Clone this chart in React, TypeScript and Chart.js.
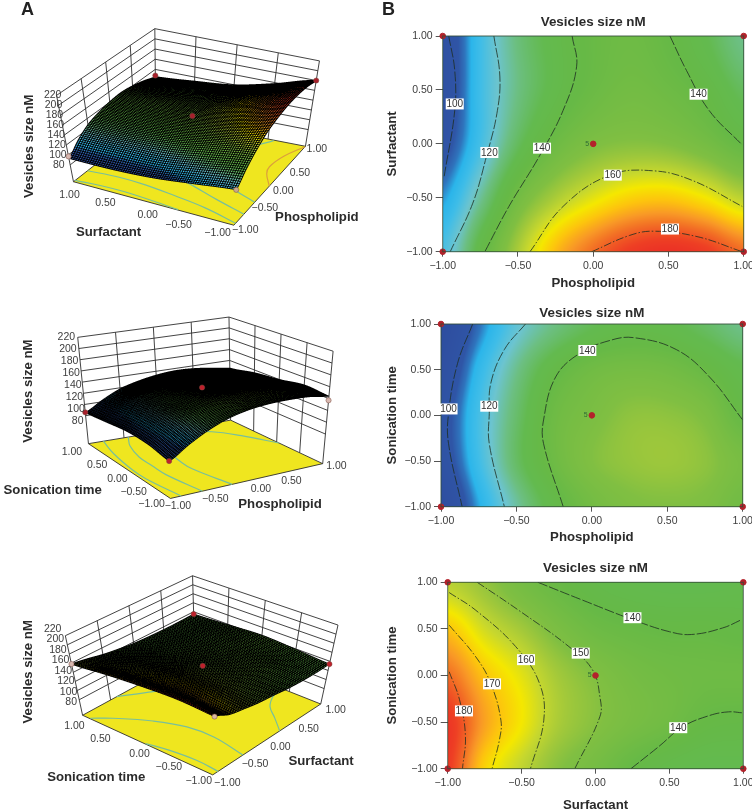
import React, { useEffect, useRef } from "react";
import { Chart } from "chart.js/auto";

type Pt = { x: number; y: number };
type Contour = { level: number; points: Pt[] };

const FONT = '"Liberation Sans", Arial, sans-serif';
Chart.defaults.font.family = FONT;

// ---------- axis values ----------
const gridX = [-1, -0.75, -0.5, -0.25, 0, 0.25, 0.5, 0.75, 1];
const gridY = [1, 0.5, 0, -0.5, -1];
const axisTicks = [-1, -0.5, 0, 0.5, 1];
const zTicks = [80, 100, 120, 140, 160, 180, 200, 220];
const titleText = "Vesicles size nM";

// ---------- response values (rows: y = 1 … -1, columns: gridX) ----------
const sizePhosSurf = [
  [93, 113, 128, 136, 141, 143, 140, 134, 126],
  [93, 113, 127, 136, 142, 145, 143, 139, 132],
  [97, 114, 132, 143, 149, 151, 150, 146, 140],
  [106, 125, 145, 156, 163, 168, 169, 165, 158],
  [115, 137, 156, 171, 180, 186, 188, 186, 180],
];
const sizePhosSonic = [
  [86, 103, 118, 127, 133, 136, 135, 131, 126],
  [91, 110, 126, 138, 144, 146, 145, 141, 135],
  [96, 114, 130, 143, 148, 152, 152, 149, 140],
  [95, 113, 131, 143, 150, 153, 154, 152, 147],
  [88, 107, 124, 137, 145, 149, 150, 149, 144],
];
const sizeSurfSonic = [
  [158, 153, 146, 141, 137, 135, 134, 134, 135],
  [170, 161, 155, 148, 143, 141, 140, 140, 139],
  [180, 170, 163, 155, 150, 146, 144, 143, 143],
  [187, 174, 165, 156, 151, 147, 144, 140, 139],
  [186, 168, 159, 151, 146, 140, 136, 134, 134],
];

// ---------- contour lines ----------
const contoursPhosSurf: Contour[] = [
  { level: 100, points: [{ x: -0.96, y: 1 }, { x: -0.92, y: 0.68 }, { x: -0.92, y: 0.31 }, { x: -0.99, y: -0.3 }] },
  { level: 120, points: [{ x: -0.66, y: 1 }, { x: -0.62, y: 0.62 }, { x: -0.64, y: 0.28 }, { x: -0.71, y: -0.12 }, { x: -0.8, y: -0.55 }, { x: -0.95, y: -1 }] },
  { level: 140, points: [{ x: -0.14, y: 1 }, { x: -0.11, y: 0.72 }, { x: -0.2, y: 0.31 }, { x: -0.36, y: -0.12 }, { x: -0.56, y: -0.58 }, { x: -0.72, y: -1 }] },
  { level: 140, points: [{ x: 0.51, y: 1 }, { x: 0.62, y: 0.68 }, { x: 0.77, y: 0.31 }, { x: 0.99, y: -0.01 }] },
  { level: 160, points: [{ x: -0.42, y: -1 }, { x: -0.2, y: -0.58 }, { x: 0.11, y: -0.29 }, { x: 0.4, y: -0.25 }, { x: 0.66, y: -0.34 }, { x: 0.99, y: -0.58 }] },
  { level: 180, points: [{ x: -0.01, y: -1 }, { x: 0.24, y: -0.85 }, { x: 0.4, y: -0.81 }, { x: 0.69, y: -0.86 }, { x: 0.99, y: -1 }] },
];
const contoursPhosSonic: Contour[] = [
  { level: 100, points: [{ x: -0.79, y: 1 }, { x: -0.89, y: 0.57 }, { x: -0.95, y: 0.02 }, { x: -0.95, y: -0.31 }, { x: -0.86, y: -1 }] },
  { level: 120, points: [{ x: -0.44, y: 1 }, { x: -0.58, y: 0.72 }, { x: -0.67, y: 0.35 }, { x: -0.68, y: 0.02 }, { x: -0.68, y: -0.31 }, { x: -0.58, y: -1 }] },
  { level: 140, points: [{ x: -0.19, y: -1 }, { x: -0.32, y: -0.31 }, { x: -0.32, y: -0.05 }, { x: -0.24, y: 0.42 }, { x: -0.08, y: 0.68 }, { x: 0.12, y: 0.82 }, { x: 0.28, y: 0.85 }, { x: 0.56, y: 0.72 }, { x: 0.78, y: 0.42 }, { x: 1, y: -0.05 }] },
];
const contoursSurfSonic: Contour[] = [
  { level: 180, points: [{ x: -0.99, y: 0.04 }, { x: -0.92, y: -0.26 }, { x: -0.88, y: -0.65 }, { x: -0.9, y: -1 }] },
  { level: 170, points: [{ x: -0.99, y: 0.54 }, { x: -0.81, y: 0.2 }, { x: -0.71, y: -0.08 }, { x: -0.64, y: -0.48 }, { x: -0.65, y: -0.69 }, { x: -0.7, y: -1 }] },
  { level: 160, points: [{ x: -0.99, y: 0.89 }, { x: -0.81, y: 0.7 }, { x: -0.54, y: 0.31 }, { x: -0.38, y: -0.08 }, { x: -0.35, y: -0.48 }, { x: -0.44, y: -1 }] },
  { level: 150, points: [{ x: -0.8, y: 1 }, { x: -0.52, y: 0.7 }, { x: -0.18, y: 0.31 }, { x: -0.02, y: 0.06 }, { x: 0.03, y: -0.23 }, { x: 0.03, y: -0.44 }, { x: -0.14, y: -1 }] },
  { level: 140, points: [{ x: -0.39, y: 1 }, { x: -0.09, y: 0.81 }, { x: 0.25, y: 0.6 }, { x: 0.5, y: 0.47 }, { x: 0.65, y: 0.44 }, { x: 0.86, y: 0.51 }, { x: 0.99, y: 0.6 }] },
  { level: 140, points: [{ x: 0.24, y: -1 }, { x: 0.43, y: -0.76 }, { x: 0.59, y: -0.55 }, { x: 0.77, y: -0.43 }, { x: 0.9, y: -0.39 }, { x: 0.99, y: -0.4 }] },
];

// ---------- contour value labels ----------
const labelsPhosSurf = [
  { x: -0.92, y: 0.37, t: "100" }, { x: -0.69, y: -0.08, t: "120" }, { x: -0.34, y: -0.04, t: "140" },
  { x: 0.7, y: 0.46, t: "140" }, { x: 0.13, y: -0.29, t: "160" }, { x: 0.51, y: -0.79, t: "180" },
];
const labelsPhosSonic = [
  { x: -0.95, y: 0.07, t: "100" }, { x: -0.68, y: 0.1, t: "120" }, { x: -0.03, y: 0.71, t: "140" },
];
const labelsSurfSonic = [
  { x: 0.25, y: 0.62, t: "140" }, { x: -0.1, y: 0.24, t: "150" }, { x: -0.47, y: 0.17, t: "160" },
  { x: -0.7, y: -0.09, t: "170" }, { x: -0.89, y: -0.38, t: "180" }, { x: 0.56, y: -0.56, t: "140" },
];

// ---------- design points ----------
const designCorners: Pt[] = [{ x: -1, y: 1 }, { x: 1, y: 1 }, { x: -1, y: -1 }, { x: 1, y: -1 }, { x: 0, y: 0 }];
const designPhosSurf = [{ x: -1, y: 1, z: 97, c: "#d8b8b0" }, { x: 1, y: 1, z: 128, c: "#a8202c" }, { x: -1, y: -1, z: 115, c: "#c9a98a" }, { x: 1, y: -1, z: 180, c: "#a8202c" }, { x: 0, y: 0, z: 149, c: "#a8202c" }];
const designPhosSonic = [{ x: -1, y: 1, z: 86, c: "#a8202c" }, { x: -1, y: -1, z: 88, c: "#c0202c" }, { x: 1, y: -1, z: 137, c: "#d8b8b0" }, { x: 0, y: 0, z: 148, c: "#c0202c" }];
const designSurfSonic = [{ x: -1, y: 1, z: 158, c: "#d8b8b0" }, { x: 1, y: 1, z: 135, c: "#c0202c" }, { x: -1, y: -1, z: 186, c: "#d8b8a0" }, { x: 1, y: -1, z: 134, c: "#c0202c" }, { x: 0, y: 0, z: 150, c: "#c0202c" }];

// ---------- colour ramp ----------
const colorStops: [number, string][] = [
  [80, "#2e4a9c"], [100, "#2f55a6"], [104, "#2f74bd"], [108, "#2bb5ea"], [113, "#3fbde8"], [120, "#6cc4cf"],
  [127, "#6cbf82"], [134, "#63ba4f"], [140, "#66b946"], [150, "#80bf42"], [155, "#a3c93a"], [160, "#c8d82e"],
  [165, "#f5e800"], [170, "#fdc40e"], [175, "#f99a26"], [180, "#f26c25"], [185, "#ee4024"], [192, "#e81f28"],
];
const hex = (s: string) => [1, 3, 5].map((i) => parseInt(s.slice(i, i + 2), 16));
const stopRgb = colorStops.map(([v, c]) => [v, ...hex(c)]);
function rampColor(v: number): number[] {
  if (v <= stopRgb[0][0]) return stopRgb[0].slice(1);
  for (let i = 1; i < stopRgb.length; i++) {
    if (v <= stopRgb[i][0]) {
      const a = stopRgb[i - 1];
      const b = stopRgb[i];
      const t = (v - a[0]) / (b[0] - a[0]);
      return [a[1] + (b[1] - a[1]) * t, a[2] + (b[2] - a[2]) * t, a[3] + (b[3] - a[3]) * t];
    }
  }
  return stopRgb[stopRgb.length - 1].slice(1);
}

function cr(p0: number, p1: number, p2: number, p3: number, t: number) {
  return 0.5 * (2 * p1 + (p2 - p0) * t + (2 * p0 - 5 * p1 + 4 * p2 - p3) * t * t + (3 * p1 - p0 - 3 * p2 + p3) * t * t * t);
}
function readGrid(g: number[][], x: number, y: number) {
  const fx = Math.min(gridX.length - 1.0001, Math.max(0, (x + 1) * 4));
  const fy = Math.min(gridY.length - 1.0001, Math.max(0, (1 - y) * 2));
  const ix = Math.floor(fx), iy = Math.floor(fy);
  const row = (r: number) => {
    const R = g[Math.max(0, Math.min(4, r))];
    const c = (k: number) => R[Math.max(0, Math.min(8, k))];
    return cr(c(ix - 1), c(ix), c(ix + 1), c(ix + 2), fx - ix);
  };
  return cr(row(iy - 1), row(iy), row(iy + 1), row(iy + 2), fy - iy);
}

const fmt = (v: number) => (v < 0 ? "\u2212" : "") + Math.abs(v).toFixed(2);

// ---------- contour panels ----------
type CP = {
  top: number; height: number; plotL: number; plotR: number; plotT: number; plotB: number; titleY: number; xTitleY: number;
  grid: number[][]; contours: Contour[]; labels: { x: number; y: number; t: string }[];
  xTitle: string; yTitle: string; mark?: string;
};
function ContourPanel(p: CP) {
  const ref = useRef<HTMLCanvasElement>(null);
  useEffect(() => {
    const W = 376;
    const lhT = 13.4 * 1.2;
    const lhA = 13.2 * 1.2;
    const heat = {
      id: "heat",
      beforeDatasetsDraw(ch: any) {
        const a = ch.chartArea;
        const w = Math.round(a.right - a.left), h = Math.round(a.bottom - a.top);
        const off = document.createElement("canvas");
        off.width = w; off.height = h;
        const c = off.getContext("2d")!;
        const img = c.createImageData(w, h);
        for (let j = 0; j < h; j++) {
          const y = ch.scales.y.getValueForPixel(a.top + j + 0.5);
          for (let i = 0; i < w; i++) {
            const x = ch.scales.x.getValueForPixel(a.left + i + 0.5);
            const col = rampColor(readGrid(p.grid, x, y));
            const k = (j * w + i) * 4;
            img.data[k] = col[0]; img.data[k + 1] = col[1]; img.data[k + 2] = col[2]; img.data[k + 3] = 255;
          }
        }
        c.putImageData(img, 0, 0);
        ch.ctx.drawImage(off, a.left, a.top, a.right - a.left, a.bottom - a.top);
      },
      afterDatasetsDraw(ch: any) {
        const ctx = ch.ctx;
        const a = ch.chartArea;
        ctx.save();
        ctx.strokeStyle = "rgba(50,75,55,0.85)";
        ctx.lineWidth = 1;
        ctx.strokeRect(a.left, a.top, a.right - a.left, a.bottom - a.top);
        ctx.font = `10px ${FONT}`;
        ctx.textAlign = "center";
        ctx.textBaseline = "middle";
        for (const l of p.labels) {
          const px = ch.scales.x.getPixelForValue(l.x), py = ch.scales.y.getPixelForValue(l.y);
          ctx.fillStyle = "#fff";
          ctx.fillRect(px - 9, py - 5.5, 18, 11);
          ctx.fillStyle = "#333";
          ctx.fillText(l.t, px, py + 0.5);
        }
        if (p.mark) {
          ctx.font = `7px ${FONT}`;
          ctx.fillStyle = "#2f6b35";
          ctx.fillText(p.mark, ch.scales.x.getPixelForValue(-0.04), ch.scales.y.getPixelForValue(0));
        }
        ctx.restore();
      },
    };
    const datasets: any[] = [
      {
        data: designCorners, showLine: false, pointStyle: "circle", pointRadius: 2.8, backgroundColor: "#b3222b",
        borderColor: "#b3222b", clip: false,
      },
      ...p.contours.map((c) => ({
        data: c.points, showLine: true, pointRadius: 0, borderColor: "#1e2f22", borderWidth: 0.8, tension: 0.4,
        borderDash: c.level >= 160 || c.level === 150 ? [8, 2, 1.5, 2] : [10, 2],
      })),
    ];
    const chart = new Chart(ref.current!, {
      type: "scatter",
      data: { datasets },
      plugins: [heat],
      options: {
        animation: false, responsive: false, events: [],
        layout: { padding: { left: 0, top: 0, right: W + 376 - p.plotR, bottom: 0 } },
        plugins: {
          legend: { display: false }, tooltip: { enabled: false },
          title: {
            display: true, text: titleText, color: "#2b2b2b", fullSize: false,
            font: { size: 13.4, weight: "bold" },
            padding: { top: p.titleY - p.top - lhT / 2, bottom: p.plotT - p.titleY - lhT / 2 },
          },
        },
        scales: {
          x: {
            type: "linear", min: -1, max: 1,
            afterFit(s: any) { s.height = p.top + p.height - p.plotB; s.paddingLeft = 0; s.paddingRight = 0; },
            afterBuildTicks(s: any) { s.ticks = axisTicks.map((v) => ({ value: v })); },
            ticks: { callback: (v: any) => fmt(Number(v)), color: "#3d3d3d", font: { size: 10.5 }, maxRotation: 0, autoSkip: false, padding: 3 },
            grid: { display: true, drawOnChartArea: false, drawTicks: true, tickLength: 5, color: "#555" },
            border: { display: false },
            title: {
              display: true, text: p.xTitle, color: "#2b2b2b", font: { size: 13.2, weight: "bold" },
              padding: { top: 0, bottom: p.top + p.height - p.xTitleY - lhA / 2 },
            },
          },
          y: {
            type: "linear", min: -1, max: 1,
            afterFit(s: any) { s.width = p.plotL - 376; s.paddingTop = 0; s.paddingBottom = 0; },
            afterBuildTicks(s: any) { s.ticks = axisTicks.map((v) => ({ value: v })); },
            ticks: { callback: (v: any) => fmt(Number(v)), color: "#3d3d3d", font: { size: 10.5 }, autoSkip: false, padding: 3 },
            grid: { display: true, drawOnChartArea: false, drawTicks: true, tickLength: 7, color: "#555" },
            border: { display: false },
            title: {
              display: true, text: p.yTitle, color: "#2b2b2b", font: { size: 13.2, weight: "bold" },
              padding: { top: 16.7 - lhA / 2, bottom: 0 },
            },
          },
        },
      } as any,
    });
    return () => chart.destroy();
  }, []);
  return <canvas ref={ref} width={376} height={p.height} style={{ position: "absolute", left: 376, top: p.top, width: 376, height: p.height }} />;
}

// ---------- 3-D panels ----------
type XY = [number, number];
type ViewCfg = {
  top: number; zMin: number; brush: number; cells: number; warm: number;
  f00: XY; f10: XY; f01: XY; f11: XY; t00: XY; t10: XY; t01: XY; t11: XY;
  zLabelTop: XY; zLabelBottom: XY; yLabels: XY[]; xLabels: XY[];
  xTitle: string; xTitleAt: XY; yTitle: string; yTitleAt: XY; zTitleAt: XY;
};
type View = ViewCfg & { grid: number[][]; contours: Contour[]; design: { x: number; y: number; z: number; c: string }[] };

const viewA1: ViewCfg = {
  top: 0, zMin: 46, brush: 3, cells: 74, warm: 170,
  f00: [705, 685], f10: [925, 440], f01: [212, 550], f11: [465, 350],
  t00: [723, 408], t10: [968, 175], t01: [160, 282], t11: [462, 75],
  zLabelTop: [148, 282], zLabelBottom: [167, 497],
  yLabels: [[655, 710], [535, 685], [440, 653], [310, 617], [200, 593]],
  xLabels: [[740, 700], [800, 632], [857, 578], [908, 524], [960, 450]],
  xTitle: "Phospholipid", xTitleAt: [960, 662], yTitle: "Surfactant", yTitleAt: [320, 708], zTitleAt: [75, 440],
};
const viewA2: ViewCfg = {
  top: 270, zMin: 30, brush: 3, cells: 74, warm: 999,
  f00: [510, 695], f10: [978, 587], f01: [258, 525], f11: [695, 452],
  t00: [497, 315], t10: [1010, 238], t01: [225, 195], t11: [690, 132],
  zLabelTop: [190, 195], zLabelBottom: [225, 455],
  yLabels: [[452, 712], [397, 674], [347, 634], [285, 590], [207, 550]],
  xLabels: [[533, 720], [648, 697], [788, 665], [882, 640], [1020, 595]],
  xTitle: "Phospholipid", xTitleAt: [847, 712], yTitle: "Sonication time", yTitleAt: [148, 670], zTitleAt: [73, 362],
};
const viewA3: ViewCfg = {
  top: 540, zMin: 46, brush: 3, cells: 74, warm: 999,
  f00: [640, 715], f10: [972, 495], f01: [240, 530], f11: [585, 340],
  t00: [647, 490], t10: [1025, 250], t01: [187, 283], t11: [578, 97],
  zLabelTop: [148, 262], zLabelBottom: [205, 490],
  yLabels: [[597, 735], [505, 692], [415, 652], [295, 605], [215, 565]],
  xLabels: [[685, 742], [770, 682], [848, 628], [935, 572], [1018, 514]],
  xTitle: "Surfactant", xTitleAt: [973, 672], yTitle: "Sonication time", yTitleAt: [282, 722], zTitleAt: [72, 395],
};

const SS = 4; // surface raster supersampling

function rasterSurface(ch: any, v: View, project: (x: number, y: number, z: number) => Pt) {
  const W = ch.width * SS, H = ch.height * SS;
  const off = document.createElement("canvas");
  off.width = W; off.height = H;
  const c = off.getContext("2d")!;
  const img = c.createImageData(W, H);
  const data = img.data;
  const put = (x: number, y: number, r: number, g: number, b: number) => {
    if (x < 0 || y < 0 || x >= W || y >= H) return;
    const k = (y * W + x) * 4;
    data[k] = r; data[k + 1] = g; data[k + 2] = b; data[k + 3] = 255;
  };
  const n = v.cells;
  const nodes: XY[][] = [];
  for (let i = 0; i <= n; i++) {
    nodes.push([]);
    for (let j = 0; j <= n; j++) {
      const x = -1 + (2 * i) / n, y = -1 + (2 * j) / n;
      const q = project(x, y, readGrid(v.grid, x, y));
      nodes[i].push([ch.scales.x.getPixelForValue(q.x) * SS, ch.scales.y.getPixelForValue(q.y) * SS]);
    }
  }
  const order: { i: number; j: number; d: number }[] = [];
  for (let i = 0; i < n; i++) for (let j = 0; j < n; j++) {
    order.push({ i, j, d: project(-1 + (2 * i + 1) / n, -1 + (2 * j + 1) / n, v.zMin).y });
  }
  order.sort((a, b) => a.d - b.d);
  const tri = (a: XY, b: XY, d: XY, r: number, g: number, bl: number) => {
    const x0 = Math.floor(Math.min(a[0], b[0], d[0])), x1 = Math.ceil(Math.max(a[0], b[0], d[0]));
    const y0 = Math.floor(Math.min(a[1], b[1], d[1])), y1 = Math.ceil(Math.max(a[1], b[1], d[1]));
    const area = (b[0] - a[0]) * (d[1] - a[1]) - (b[1] - a[1]) * (d[0] - a[0]);
    if (area === 0) return;
    for (let y = y0; y <= y1; y++) for (let x = x0; x <= x1; x++) {
      const w0 = ((b[0] - x) * (d[1] - y) - (b[1] - y) * (d[0] - x)) / area;
      const w1 = ((d[0] - x) * (a[1] - y) - (d[1] - y) * (a[0] - x)) / area;
      if (w0 >= -0.01 && w1 >= -0.01 && w0 + w1 <= 1.01) put(x, y, r, g, bl);
    }
  };
  const edge = (a: XY, b: XY) => {
    const steps = Math.ceil(Math.max(Math.abs(b[0] - a[0]), Math.abs(b[1] - a[1]))) + 1;
    for (let s = 0; s <= steps; s++) {
      const x = Math.round(a[0] + ((b[0] - a[0]) * s) / steps - v.brush / 2);
      const y = Math.round(a[1] + ((b[1] - a[1]) * s) / steps - v.brush / 2);
      for (let p = 0; p < v.brush; p++) for (let q = 0; q < v.brush; q++) put(x + p, y + q, 0, 0, 0);
    }
  };
  for (const o of order) {
    const a = nodes[o.i][o.j], b = nodes[o.i + 1][o.j], cc = nodes[o.i + 1][o.j + 1], d = nodes[o.i][o.j + 1];
    const col = rampColor(readGrid(v.grid, -1 + (2 * o.i + 1) / n, -1 + (2 * o.j + 1) / n));
    tri(a, b, cc, col[0], col[1], col[2]);
    tri(a, cc, d, col[0], col[1], col[2]);
    edge(a, b); edge(b, cc); edge(cc, d); edge(d, a);
  }
  c.putImageData(img, 0, 0);
  ch.ctx.save();
  ch.ctx.imageSmoothingEnabled = true;
  ch.ctx.imageSmoothingQuality = "high";
  ch.ctx.drawImage(off, 0, 0, ch.width, ch.height);
  ch.ctx.restore();
}

function Surface3D(v: View) {
  const ref = useRef<HTMLCanvasElement>(null);
  useEffect(() => {
    const zMax = 220;
    const project = (x: number, y: number, z: number) => {
      const u = (x + 1) / 2, w = (y + 1) / 2, h = (z - v.zMin) / (zMax - v.zMin);
      const mix = (a: XY, b: XY, c: XY, d: XY, k: 0 | 1) =>
        (1 - u) * (1 - w) * a[k] + u * (1 - w) * b[k] + (1 - u) * w * c[k] + u * w * d[k];
      const fx = mix(v.f00, v.f10, v.f01, v.f11, 0), fy = mix(v.f00, v.f10, v.f01, v.f11, 1);
      const tx = mix(v.t00, v.t10, v.t01, v.t11, 0), ty = mix(v.t00, v.t10, v.t01, v.t11, 1);
      return { x: fx + (tx - fx) * h, y: fy + (ty - fy) * h };
    };
    const wall = (pts: [number, number, number][]) => ({
      data: pts.map(([a, b, c]) => project(a, b, c)), showLine: true, pointRadius: 0,
      borderColor: "#2f2f2f", borderWidth: 0.9,
    });
    const wallSets: any[] = [];
    for (const z of zTicks) wallSets.push(wall([[-1, 1, z], [1, 1, z], [1, -1, z]]));
    for (const t of axisTicks) {
      wallSets.push(wall([[t, 1, v.zMin], [t, 1, zMax]]));
      if (t !== 1) wallSets.push(wall([[1, t, v.zMin], [1, t, zMax]]));
    }
    const floorSets = v.contours.map((c) => ({
      data: c.points.map((q) => project(q.x, q.y, v.zMin)), showLine: true, pointRadius: 0, tension: 0.4,
      borderColor: c.level >= v.warm ? "#dba03c" : "#78bf9c", borderWidth: 1.2,
    }));
    const datasets: any[] = [
      {
        data: v.design.map((d) => project(d.x, d.y, d.z)), showLine: false, pointRadius: 2.6,
        backgroundColor: v.design.map((d) => d.c), borderColor: "#7a4a40", borderWidth: 0.5, clip: false,
      },
      ...floorSets,
      ...wallSets,
    ];
    const px = (ch: any, p: { x: number; y: number }): XY => [ch.scales.x.getPixelForValue(p.x), ch.scales.y.getPixelForValue(p.y)];
    const plugin = {
      id: "surface",
      beforeDatasetsDraw(ch: any) {
        const ctx = ch.ctx;
        ctx.save();
        ctx.fillStyle = "#efe61f";
        ctx.strokeStyle = "#2f2f2f";
        ctx.lineWidth = 0.9;
        ctx.beginPath();
        [[-1, -1], [1, -1], [1, 1], [-1, 1]].forEach(([a, b], i) => {
          const q = px(ch, project(a, b, v.zMin));
          if (i === 0) ctx.moveTo(q[0], q[1]); else ctx.lineTo(q[0], q[1]);
        });
        ctx.closePath();
        ctx.fill();
        ctx.stroke();
        ctx.restore();
      },
      beforeDatasetDraw(ch: any, args: any) {
        if (args.index === 0) rasterSurface(ch, v, project);
      },
      afterDraw(ch: any) {
        const ctx = ch.ctx;
        ctx.save();
        ctx.textAlign = "center";
        ctx.textBaseline = "middle";
        const at = (q: XY) => px(ch, { x: q[0], y: q[1] });
        ctx.font = `10.5px ${FONT}`;
        ctx.fillStyle = "#3d3d3d";
        zTicks.forEach((z, i) => {
          const f = (zTicks.length - 1 - i) / (zTicks.length - 1);
          const q = at([
            v.zLabelTop[0] + (v.zLabelBottom[0] - v.zLabelTop[0]) * f,
            v.zLabelTop[1] + (v.zLabelBottom[1] - v.zLabelTop[1]) * f,
          ]);
          ctx.fillText(String(z), q[0], q[1]);
        });
        axisTicks.forEach((t, i) => {
          const a = at(v.xLabels[i]), b = at(v.yLabels[i]);
          ctx.fillText(fmt(t), a[0], a[1]);
          ctx.fillText(fmt(t), b[0], b[1]);
        });
        ctx.font = `bold 13.2px ${FONT}`;
        ctx.fillStyle = "#2b2b2b";
        const a = at(v.xTitleAt), b = at(v.yTitleAt), c = at(v.zTitleAt);
        ctx.fillText(v.xTitle, a[0], a[1]);
        ctx.fillText(v.yTitle, b[0], b[1]);
        ctx.translate(c[0], c[1]);
        ctx.rotate(-Math.PI / 2);
        ctx.fillText(titleText, 0, 0);
        ctx.restore();
      },
    };
    const chart = new Chart(ref.current!, {
      type: "scatter",
      data: { datasets },
      plugins: [plugin],
      options: {
        animation: false, responsive: false, events: [],
        plugins: { legend: { display: false }, tooltip: { enabled: false } },
        scales: {
          x: { type: "linear", display: false, min: 0, max: 1128 },
          y: { type: "linear", display: false, min: 0, max: 810, reverse: true },
        },
      } as any,
    });
    return () => chart.destroy();
  }, []);
  return <canvas ref={ref} width={376} height={270} style={{ position: "absolute", left: 0, top: v.top, width: 376, height: 270 }} />;
}

const letter = (t: string, left: number) => (
  <div style={{ position: "absolute", left, top: 0, font: `bold 18px ${FONT}`, color: "#222", lineHeight: "18px" }}>{t}</div>
);

export default function App() {
  return (
    <div style={{ position: "fixed", left: 0, top: 0, width: 752, height: 810, overflow: "hidden", background: "#fff" }}>
      <Surface3D {...viewA1} grid={sizePhosSurf} contours={contoursPhosSurf} design={designPhosSurf} />
      <Surface3D {...viewA2} grid={sizePhosSonic} contours={contoursPhosSonic} design={designPhosSonic} />
      <Surface3D {...viewA3} grid={sizeSurfSonic} contours={contoursSurfSonic.filter((c) => c.level !== 150 && c.level !== 170)} design={designSurfSonic} />
      <ContourPanel top={0} height={292} plotL={442.7} plotR={743.7} plotT={36} plotB={251.7} titleY={22} xTitleY={283.5}
        grid={sizePhosSurf} contours={contoursPhosSurf} labels={labelsPhosSurf} xTitle="Phospholipid" yTitle="Surfactant" mark="5" />
      <ContourPanel top={292} height={252} plotL={441} plotR={742.7} plotT={324} plotB={506.7} titleY={313} xTitleY={537}
        grid={sizePhosSonic} contours={contoursPhosSonic} labels={labelsPhosSonic} xTitle="Phospholipid" yTitle="Sonication time" mark="5" />
      <ContourPanel top={544} height={270} plotL={447.7} plotR={743.3} plotT={582.3} plotB={768.7} titleY={568} xTitleY={805}
        grid={sizeSurfSonic} contours={contoursSurfSonic} labels={labelsSurfSonic} xTitle="Surfactant" yTitle="Sonication time" mark="5" />
      {letter("A", 21)}
      {letter("B", 382)}
    </div>
  );
}
